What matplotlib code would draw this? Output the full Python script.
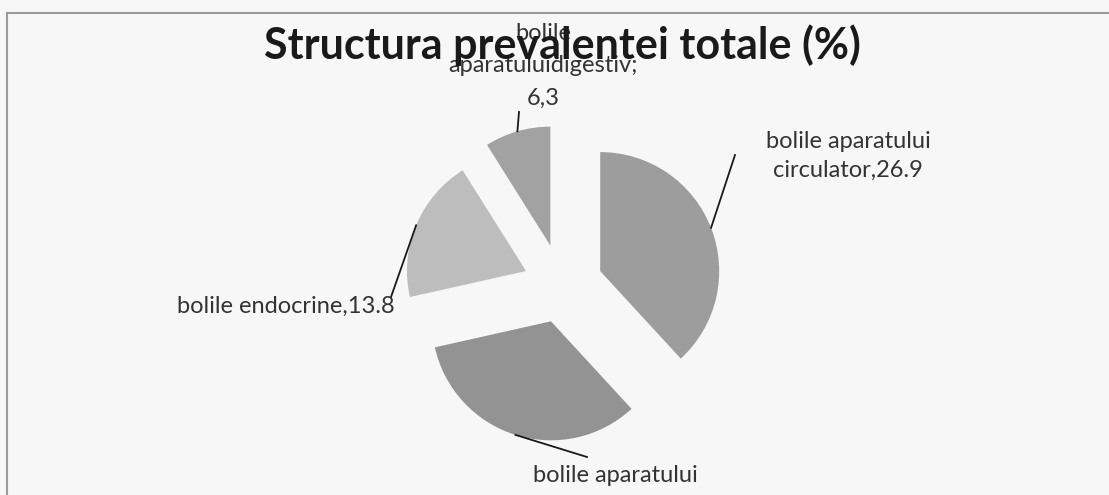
import numpy as np
import matplotlib.pyplot as plt

W, H = 1109, 495

# data
title = 'Structura prevalentei totale (%)'
labels = ['bolile aparatului\ncirculator,26.9',
          'bolile aparatului',
          'bolile endocrine,13.8',
          'bolile\naparatuluidigestiv;\n6,3']
values = [26.9, 23.5, 13.8, 6.3]

# styling / layout (pixel coords, y measured from top)
colors = ['#9d9d9d', '#939393', '#bdbdbd', '#a2a2a2']
explode = [41, 37, 39, 42]
center = (562, 286)
radius = 119
label_pos = [(848, 156), (615, 475), (286, 306), (543, 66)]
leader_end = [(735, 155), (587, 457), (391, 297), (519, 112)]
spacing = [1.5, 1.5, 1.5, 1.68]

plt.rcParams['font.family'] = ['Lato', 'DejaVu Sans']

fig = plt.figure(figsize=(W / 100, H / 100), dpi=100, facecolor='#f7f7f7')
ax = fig.add_axes([0, 0, 1, 1])

wedges, _ = ax.pie(values, colors=colors, explode=explode,
                   center=(center[0], H - center[1]), radius=radius,
                   startangle=90, counterclock=False,
                   wedgeprops=dict(linewidth=0))

ax.set_xlim(0, W)
ax.set_ylim(0, H)
ax.set_aspect('equal')
ax.axis('off')

# leader lines from the middle of each arc
for w, lab, (tx, ty), (ex, ey), ls in zip(wedges, labels, label_pos,
                                          leader_end, spacing):
    a = np.deg2rad((w.theta1 + w.theta2) / 2)
    sx = w.center[0] + w.r * np.cos(a)
    sy = w.center[1] + w.r * np.sin(a)
    ax.plot([sx, ex], [sy, H - ey], color='#1a1a1a', lw=1.3)
    ax.text(tx, H - ty, lab, ha='center', va='center', fontsize=17,
            color='#333333', linespacing=ls)

ax.text(562, H - 45, title, ha='center', va='center', fontsize=31,
        fontweight='bold', color='#1a1a1a')

# chart frame (cropped at right and bottom)
ax.plot([7, W + 5], [H - 13, H - 13], color='#9a9a9a', lw=1.5, clip_on=False)
ax.plot([7, 7], [H - 13, -5], color='#9a9a9a', lw=1.5, clip_on=False)

fig.savefig('out.png', dpi=100, facecolor=fig.get_facecolor())
